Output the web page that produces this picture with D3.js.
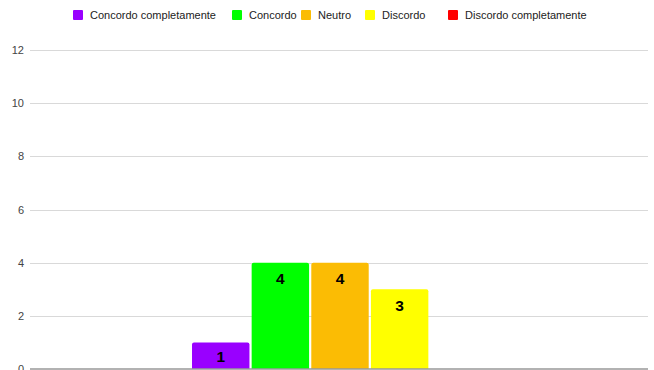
<!DOCTYPE html>
<html>
<head>
<meta charset="utf-8">
<script src="https://cdn.jsdelivr.net/npm/d3@7/dist/d3.min.js"></script>
<style>
  html, body { margin: 0; padding: 0; background: #fff; }
  svg { display: block; font-family: "Liberation Sans", Arial, sans-serif; }
</style>
</head>
<body>
<svg id="chart" width="654" height="370"></svg>
<script>
// Survey answers: one question, five response levels
const categories = [""];
const seriesNames = ["Concordo completamente", "Concordo", "Neutro", "Discordo", "Discordo completamente"];
const seriesValues = [1, 4, 4, 3, 0];
const seriesColors = ["#9900ff", "#00ff00", "#fbbc04", "#ffff00", "#ff0000"];
const yTicks = [0, 2, 4, 6, 8, 10, 12];

const W = 654, H = 370;
const plot = { left: 30, right: 648, top: 50, bottom: 369 };

const svg = d3.select("#chart");

const y = d3.scaleLinear().domain([0, 12]).range([plot.bottom, plot.top]);

const x0 = d3.scaleBand().domain(categories)
  .range([plot.left, plot.right]).paddingInner(0).paddingOuter(0.537);
const x1 = d3.scaleBand().domain(seriesNames)
  .range([x0(categories[0]) + 2, x0(categories[0]) + x0.bandwidth()])
  .paddingInner(0.037).paddingOuter(0);

// Gridlines
svg.append("g")
  .selectAll("line")
  .data(yTicks.filter(t => t !== 0))
  .join("line")
  .attr("x1", plot.left).attr("x2", plot.right)
  .attr("y1", d => Math.round(y(d)) + 0.5).attr("y2", d => Math.round(y(d)) + 0.5)
  .attr("stroke", "#d9d9d9").attr("stroke-width", 1);

// Y axis labels
const yAxis = d3.axisLeft(y).tickValues(yTicks).tickSize(0).tickPadding(6);
const yg = svg.append("g").attr("transform", `translate(${plot.left},0)`).call(yAxis);
yg.select(".domain").remove();
yg.selectAll("text")
  .attr("fill", "#444").attr("font-size", 11)
  .attr("font-family", "Liberation Sans, Arial, sans-serif");

// Bars
const data = seriesNames.map((name, i) => ({ name, value: seriesValues[i], color: seriesColors[i] }));
const r = 2;
svg.append("g")
  .selectAll("path")
  .data(data.filter(d => d.value > 0))
  .join("path")
  .attr("d", d => {
    const bx = x1(d.name), bw = x1.bandwidth();
    const top = y(d.value), bot = y(0);
    return `M${bx},${bot}V${top + r}Q${bx},${top} ${bx + r},${top}H${bx + bw - r}Q${bx + bw},${top} ${bx + bw},${top + r}V${bot}Z`;
  })
  .attr("fill", d => d.color);

// Baseline
svg.append("line")
  .attr("x1", plot.left).attr("x2", plot.right)
  .attr("y1", y(0)).attr("y2", y(0))
  .attr("stroke", "#999").attr("stroke-width", 1.5);

// Value labels inside bar tops
svg.append("g")
  .selectAll("text")
  .data(data.filter(d => d.value > 0))
  .join("text")
  .attr("x", d => x1(d.name) + x1.bandwidth() / 2)
  .attr("y", d => Math.min(y(d.value) + 21.5, y(0) - 7.5))
  .attr("text-anchor", "middle")
  .attr("font-size", 15.5).attr("font-weight", "bold")
  .attr("fill", "#000")
  .text(d => d.value);

// Legend
const legendX = [73, 232, 301, 365, 448];
const lg = svg.append("g").selectAll("g").data(data).join("g")
  .attr("transform", (d, i) => `translate(${legendX[i]},10)`);
lg.append("rect").attr("width", 10).attr("height", 10).attr("rx", 1).attr("fill", d => d.color);
lg.append("text").attr("x", 17).attr("y", 9).attr("font-size", 11).attr("fill", "#222")
  .text(d => d.name);
</script>
</body>
</html>
